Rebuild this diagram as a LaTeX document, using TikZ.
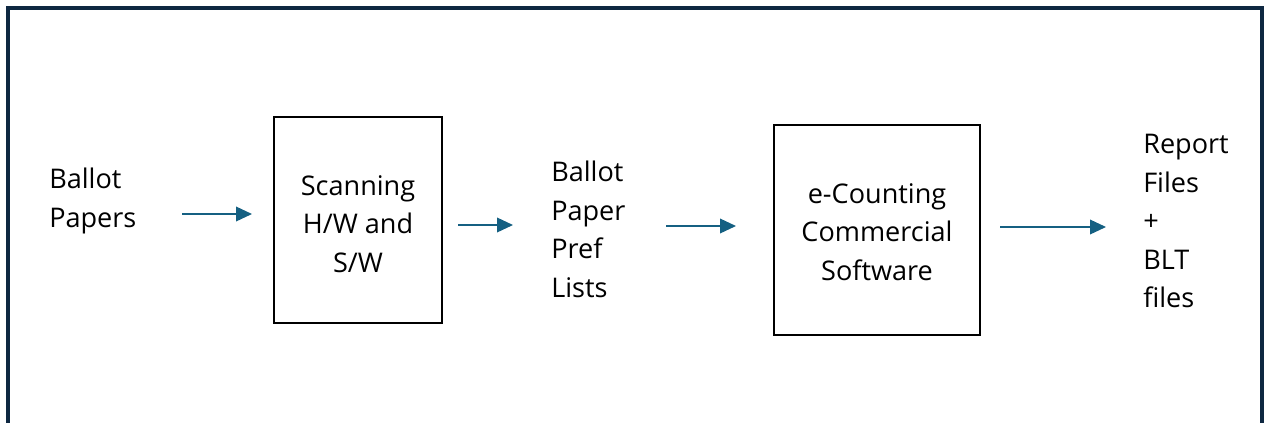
\documentclass[tikz,border=0pt]{standalone}
\usepackage{fontspec}
\setmainfont{Open Sans}
\usetikzlibrary{arrows.meta}

\definecolor{framecol}{HTML}{0E2841}
\definecolor{arrowcol}{HTML}{156082}

\tikzset{
	txt/.style={inner sep=0pt, align=left, anchor=north west,
		font=\fontsize{20.3}{28.9}\selectfont},
	boxtxt/.style={inner sep=0pt, align=center,
		font=\fontsize{20.3}{28.9}\selectfont},
	procbox/.style={draw=black, line width=0.8pt},
	flow/.style={draw=arrowcol, line width=1.1pt,
		-{Triangle[length=12pt,width=11pt]}}
}

\begin{document}
\begin{tikzpicture}[x=0.75pt,y=-0.75pt]
		\useasboundingbox (0,0) rectangle (1264,422);
		\draw[framecol, line width=2.4pt] (8,8) rectangle (1262,460);
		
		% inputs, process boxes and outputs
		\node[txt] (papers) at (49,168) {Ballot\\Papers};
		\node[procbox, minimum width=126pt, minimum height=154.5pt] (scan) at (358,220) {};
		\node[boxtxt] (scanlbl) at ([yshift=-3pt]scan.center) {Scanning\\H/W and\\S/W};
		\node[txt] (lists) at (551,161) {Ballot\\Paper\\Pref\\Lists};
		\node[procbox, minimum width=154.5pt, minimum height=157.5pt] (count) at (877,230) {};
		\node[boxtxt] (countlbl) at ([yshift=-1.5pt]count.center) {e-Counting\\Commercial\\Software};
		\node[txt] (report) at (1143,134) {Report\\Files\\+\\BLT\\files};
		
		% arrow end points
		\coordinate (a1) at (182,214);  \coordinate (b1) at (252,214);
		\coordinate (a2) at (458,225);  \coordinate (b2) at (513,225);
		\coordinate (a3) at (666,226);  \coordinate (b3) at (736,226);
		\coordinate (a4) at (1000,227); \coordinate (b4) at (1106,227);
		
		\draw[flow] (a1) -- (b1);
		\draw[flow] (a2) -- (b2);
		\draw[flow] (a3) -- (b3);
		\draw[flow] (a4) -- (b4);
		\end{tikzpicture}
\end{document}
